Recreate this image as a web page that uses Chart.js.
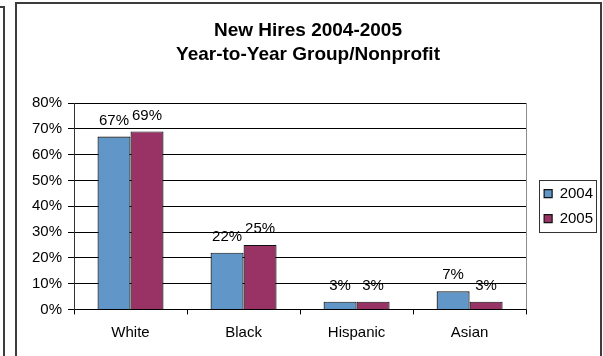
<!DOCTYPE html>
<html lang="en">
<head>
<meta charset="UTF-8" />
<title>New Hires 2004-2005</title>
<script src="https://cdn.jsdelivr.net/npm/chart.js@4"></script>
<style>
  html, body { margin: 0; padding: 0; background: #fff; overflow: hidden; }
  body { width: 603px; height: 356px; position: relative; }
  .frame { position: absolute; box-sizing: border-box; border: 2px solid #3c3c3c; border-bottom: none; height: 400px; }
  #side { left: -60px; top: 6px; width: 65px; }
  #outer { left: 15px; top: 2px; width: 587px; }
  #wrap { position: absolute; left: 0; top: 0; width: 603px; height: 356px; }
</style>
</head>
<body>
<div class="frame" id="side"></div>
<div class="frame" id="outer"></div>
<div id="wrap"><canvas id="chart" width="603" height="356"></canvas></div>
<script>
const groups = ['White', 'Black', 'Hispanic', 'Asian'];
const years = ['2004', '2005'];
const hires2004 = [67, 22, 3, 7];
const hires2005 = [69, 25, 3, 3];
const titleLines = ['New Hires 2004-2005', 'Year-to-Year Group/Nonprofit'];

const FONT = 'Arial, "Liberation Sans", sans-serif';
Chart.defaults.font.family = FONT;
Chart.defaults.color = '#000';

// push the legend a bit to the right of the plot, like the sheet does
const legendNudge = {
  id: 'legendNudge',
  afterLayout(chart) {
    const lg = chart.legend;
    lg.left += 8; lg.right += 8;
  }
};

// grey right edge of the plot, legend frame, % labels above the bars
const extras = {
  id: 'extras',
  beforeDatasetsDraw(chart) {
    const { ctx, chartArea: a } = chart;
    ctx.save();
    ctx.strokeStyle = '#8c8c8c';
    ctx.lineWidth = 1;
    ctx.beginPath();
    ctx.moveTo(Math.round(a.right) + 0.5, a.top);
    ctx.lineTo(Math.round(a.right) + 0.5, a.bottom);
    ctx.stroke();
    ctx.restore();
  },
  afterDatasetsDraw(chart) {
    const ctx = chart.ctx;
    ctx.save();
    ctx.font = '15px ' + FONT;
    ctx.fillStyle = '#000';
    ctx.textAlign = 'center';
    ctx.textBaseline = 'middle';
    chart.data.datasets.forEach((ds, i) => {
      chart.getDatasetMeta(i).data.forEach((bar, j) => {
        ctx.fillText(ds.data[j] + '%', bar.x, bar.y - 16);
      });
    });
    ctx.restore();
  },
  afterDraw(chart) {
    const hb = chart.legend.legendHitBoxes;
    if (!hb || !hb.length) return;
    const ctx = chart.ctx;
    const last = hb[hb.length - 1];
    const x0 = Math.round(hb[0].left - 5) + 0.5;
    const y0 = Math.round(hb[0].top - 6.5) + 0.5;
    const x1 = Math.round(Math.max(...hb.map(h => h.left + h.width)) + 3) + 0.5;
    const y1 = Math.round(last.top + last.height + 5.5) + 0.5;
    ctx.save();
    ctx.strokeStyle = '#333';
    ctx.lineWidth = 1;
    ctx.strokeRect(x0, y0, x1 - x0, y1 - y0);
    ctx.restore();
  }
};

new Chart(document.getElementById('chart'), {
  type: 'bar',
  data: {
    labels: groups,
    datasets: [
      {
        label: years[0],
        data: hires2004,
        backgroundColor: '#6096C8',
        borderColor: '#111',
        borderWidth: 1.2,
      },
      {
        label: years[1],
        data: hires2005,
        backgroundColor: '#993366',
        borderColor: '#111',
        borderWidth: 1.2,
      },
    ],
  },
  options: {
    responsive: false,
    animation: false,
    events: [],
    categoryPercentage: 0.584,
    barPercentage: 1,
    layout: { padding: { left: 21, right: 8, top: 0, bottom: 5.6 } },
    plugins: {
      tooltip: { enabled: false },
      title: {
        display: true,
        text: titleLines,
        color: '#000',
        font: { size: 19, weight: 'bold', lineHeight: 24 / 19 },
        padding: { top: 18.5, bottom: 36.5 },
      },
      legend: {
        position: 'right',
        fullSize: false,
        labels: {
          boxWidth: 8,
          boxHeight: 8,
          padding: 10,
          color: '#000',
          font: { size: 15 },
        },
      },
    },
    scales: {
      x: {
        grid: { display: true, drawOnChartArea: false, tickLength: 5, color: '#000', offset: true },
        border: { color: '#000' },
        ticks: { padding: 9, font: { size: 15 }, color: '#000' },
      },
      y: {
        min: 0,
        max: 80,
        ticks: { stepSize: 10, padding: 6, font: { size: 15 }, color: '#000', callback: v => v + '%' },
        grid: { color: '#000', tickLength: 6 },
        border: { color: '#333' },
        afterFit(scale) { scale.width = 53; },
      },
    },
  },
  plugins: [legendNudge, extras],
});
</script>
</body>
</html>
